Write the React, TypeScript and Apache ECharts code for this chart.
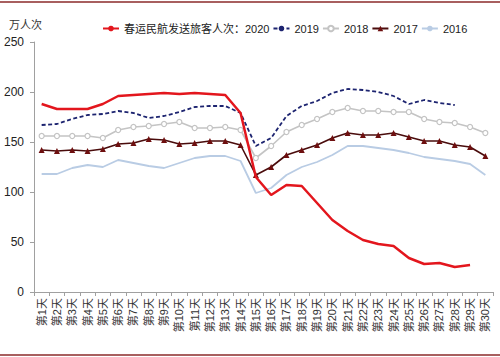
import React, { useEffect, useRef } from "react";
import * as echarts from "echarts";

const categories = Array.from({ length: 30 }, (_, i) => `第${i + 1}天`);

const seriesNames = ["春运民航发送旅客人次：2020", "2019", "2018", "2017", "2016"];

const v2020 = [188, 183, 183, 183, 188, 196, 197, 198, 199, 198, 199, 198, 197, 179, 115, 97, 107, 106, 89, 72, 61, 52, 48, 46, 34, 28, 29, 25, 27, null];
const v2019 = [167, 168, 173, 177, 178, 181, 179, 174, 176, 180, 185, 186, 186, 179, 146, 154, 176, 186, 191, 199, 203, 202, 200, 196, 188, 192, 189, 187, null, null];
const v2018 = [156, 156, 156, 156, 154, 162, 165, 166, 168, 170, 164, 164, 165, 162, 134, 146, 160, 167, 173, 180, 184, 181, 181, 180, 180, 173, 170, 169, 165, 159];
const v2017 = [142, 141, 142, 141, 143, 148, 149, 153, 152, 148, 149, 151, 151, 147, 117, 125, 137, 142, 147, 154, 159, 157, 157, 159, 155, 151, 151, 147, 145, 136];
const v2016 = [118, 118, 124, 127, 125, 132, 129, 126, 124, 129, 134, 136, 136, 131, 99, 104, 117, 125, 130, 137, 146, 146, 144, 142, 139, 135, 133, 131, 128, 117];

const yUnit = "万人次";

export default function App() {
  const ref = useRef<HTMLDivElement>(null);
  useEffect(() => {
    document.body.style.margin = "0";
    const chart = echarts.init(ref.current!, null, { renderer: "svg" });
    const font = "Liberation Sans, Arial, sans-serif";
    chart.setOption({
      animation: false,
      backgroundColor: "#ffffff",
      textStyle: { fontFamily: font },
      grid: { left: 34, right: 7, top: 42, bottom: 65, containLabel: false },
      legend: {
        top: 18,
        left: 97,
        width: 400,
        itemWidth: 16,
        itemHeight: 7,
        itemGap: 3,
        textStyle: { fontSize: 11, color: "#222", fontFamily: "Liberation Sans, Noto Sans CJK SC, sans-serif" },
        data: seriesNames,
      },
      graphic: [
        { type: "line", shape: { x1: 0, y1: 2, x2: 500, y2: 2 }, style: { stroke: "#8b2a2a", lineWidth: 1.5 } },
        { type: "line", shape: { x1: 0, y1: 355, x2: 500, y2: 355 }, style: { stroke: "#8b2a2a", lineWidth: 1.5 } },
        {
          type: "text",
          left: 9,
          top: 18,
          style: { text: yUnit, fontSize: 11, fill: "#333", fontFamily: "Noto Sans CJK SC, sans-serif" },
        },
      ],
      xAxis: {
        type: "category",
        data: categories,
        boundaryGap: true,
        axisLine: { lineStyle: { color: "#a0a0a0" } },
        axisTick: { show: true, length: 4, lineStyle: { color: "#a0a0a0" } },
        axisLabel: { rotate: 90, interval: 0, fontSize: 11, color: "#333", margin: 6, fontFamily: "Liberation Sans, Noto Sans CJK SC, sans-serif" },
        splitLine: { show: false },
      },
      yAxis: {
        type: "value",
        min: 0,
        max: 250,
        interval: 50,
        axisLine: { show: true, lineStyle: { color: "#a0a0a0" } },
        axisTick: { show: true, length: 4, lineStyle: { color: "#a0a0a0" } },
        axisLabel: { fontSize: 12, color: "#222", margin: 10 },
        splitLine: { show: false },
      },
      series: [
        {
          name: seriesNames[0],
          type: "line",
          data: v2020,
          symbol: "none",
          lineStyle: { color: "#e3161d", width: 2.5 },
          itemStyle: { color: "#e3161d" },
          z: 10,
        },
        {
          name: seriesNames[1],
          type: "line",
          data: v2019,
          symbol: "none",
          lineStyle: { color: "#1d2470", width: 1.8, type: [4, 2.5] },
          itemStyle: { color: "#1d2470" },
        },
        {
          name: seriesNames[2],
          type: "line",
          data: v2018,
          symbol: "circle",
          symbolSize: 5,
          lineStyle: { color: "#c4c4c4", width: 1.6 },
          itemStyle: { color: "#ffffff", borderColor: "#c4c4c4", borderWidth: 1.2 },
        },
        {
          name: seriesNames[3],
          type: "line",
          data: v2017,
          symbol: "triangle",
          symbolSize: 6,
          lineStyle: { color: "#4a0c0c", width: 1.6 },
          itemStyle: { color: "#6e0f0f" },
        },
        {
          name: seriesNames[4],
          type: "line",
          data: v2016,
          symbol: "none",
          lineStyle: { color: "#b9cce4", width: 1.8 },
          itemStyle: { color: "#b9cce4" },
        },
      ],
    });
    return () => chart.dispose();
  }, []);
  return <div ref={ref} style={{ width: 500, height: 357 }} />;
}
